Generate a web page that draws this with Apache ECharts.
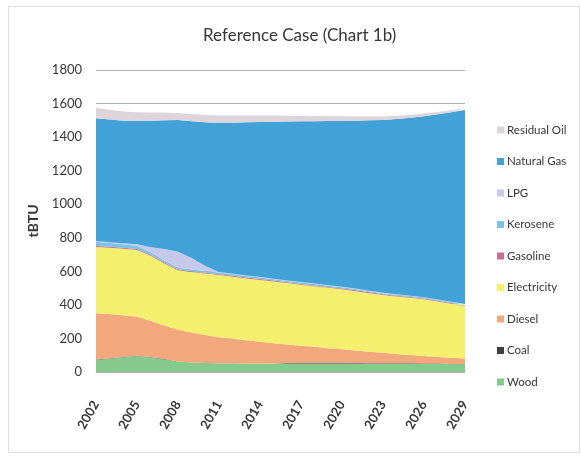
<!DOCTYPE html>
<html>
<head>
<meta charset="utf-8">
<script src="https://cdn.jsdelivr.net/npm/echarts@6/dist/echarts.min.js"></script>
<style>
  html, body { margin: 0; padding: 0; background: #ffffff; }
  #chart { width: 581px; height: 456px; }
</style>
</head>
<body>
<div id="chart"></div>
<script>
// Residential energy use by fuel, tBTU, reference case
const years = ['2002','2003','2004','2005','2006','2007','2008','2009','2010','2011',
  '2012','2013','2014','2015','2016','2017','2018','2019','2020','2021',
  '2022','2023','2024','2025','2026','2027','2028','2029'];

const wood = [72, 80, 88, 95, 88, 75, 62, 57, 54, 52, 52, 51, 51, 51, 50, 50, 50, 50, 50, 50,
  49, 49, 49, 49, 48, 48, 48, 47];
const coal = [2, 2, 2, 2, 2, 2, 0, 0, 0, 0, 0, 0, 0, 0, 3, 3, 3, 3, 3, 3,
  3, 3, 3, 3, 3, 3, 0, 0];
const diesel = [276, 263, 248, 233, 215, 200, 190, 178, 166, 155, 146, 138, 129, 121, 111, 104, 97, 89, 82, 75,
  69, 63, 56, 49, 44, 39, 37, 33];
const electricity = [395, 395, 397, 397, 388, 370, 354, 361, 367, 371, 370, 369, 369, 368, 366, 363, 361, 360, 358, 354,
  349, 344, 342, 341, 338, 330, 322, 313];
const gasoline = [6, 6, 6, 6, 6, 6, 6, 5, 5, 5, 5, 5, 5, 5, 5, 5, 5, 5, 5, 5,
  5, 5, 5, 5, 5, 5, 5, 5];
const kerosene = [25, 23, 21, 18, 15, 12, 10, 10, 10, 10, 9, 9, 9, 8, 8, 8, 8, 7, 7, 7,
  7, 6, 6, 6, 6, 5, 5, 5];
const lpg = [5, 5, 6, 10, 30, 68, 95, 69, 30, 3, 3, 3, 3, 3, 3, 3, 3, 3, 3, 3,
  3, 3, 2, 2, 2, 2, 2, 2];
const naturalGas = [731, 731, 730, 735, 754, 768, 785, 815, 856, 888, 901, 913, 924, 936, 947, 958, 968, 979, 989, 1001,
  1015, 1029, 1045, 1060, 1079, 1104, 1129, 1156];
const residualOil = [62, 58, 54, 52, 48, 45, 42, 43, 44, 45, 43, 41, 39, 37, 35, 33, 31, 29, 27, 25,
  23, 21, 19, 17, 15, 13, 12, 11];

const yTicks = [0, 200, 400, 600, 800, 1000, 1200, 1400, 1600, 1800];

// stacking order, bottom to top
const layers = [
  { name: 'Wood', data: wood, color: '#86c98c' },
  { name: 'Coal', data: coal, color: '#404040' },
  { name: 'Diesel', data: diesel, color: '#f2a77c' },
  { name: 'Electricity', data: electricity, color: '#f4ef6c' },
  { name: 'Gasoline', data: gasoline, color: '#c9708f' },
  { name: 'Kerosene', data: kerosene, color: '#7dc0e8' },
  { name: 'LPG', data: lpg, color: '#c7c9ec' },
  { name: 'Natural Gas', data: naturalGas, color: '#42a1d6' },
  { name: 'Residual Oil', data: residualOil, color: '#ddd4dc' }
];

const legendOrder = layers.map(l => l.name).reverse();
const font = 'Lato, "Open Sans", sans-serif';
const ink = '#363636';

const chart = echarts.init(document.getElementById('chart'), null, { renderer: 'canvas' });
chart.setOption({
  animation: false,
  backgroundColor: '#ffffff',
  textStyle: { fontFamily: font },
  graphic: [{
    type: 'rect',
    silent: true,
    shape: { x: 8.5, y: 6.5, width: 571, height: 446 },
    style: { fill: 'none', stroke: '#dcdcdc', lineWidth: 1 }
  }],
  title: {
    text: 'Reference Case (Chart 1b)',
    left: 198,
    top: 22,
    textStyle: { fontFamily: font, fontSize: 17, fontWeight: 'normal', color: ink }
  },
  legend: {
    orient: 'vertical',
    left: 492,
    top: 119,
    icon: 'rect',
    itemWidth: 7,
    itemHeight: 7,
    itemGap: 19.5,
    data: legendOrder,
    textStyle: { fontFamily: font, fontSize: 11.5, color: ink, lineHeight: 12, padding: [0, 0, 0, -2] }
  },
  grid: { left: 96, right: 116, top: 70, bottom: 84 },
  xAxis: {
    type: 'category',
    boundaryGap: false,
    data: years,
    axisLine: { show: false },
    axisTick: { show: false },
    axisLabel: {
      interval: 2,
      rotate: 60,
      margin: 30,
      fontFamily: font,
      fontSize: 13,
      fontWeight: 'bold',
      color: ink
    }
  },
  yAxis: {
    type: 'value',
    min: yTicks[0],
    max: yTicks[yTicks.length - 1],
    interval: 200,
    name: 'tBTU',
    nameLocation: 'middle',
    nameRotate: 90,
    nameGap: 56,
    nameTextStyle: { fontFamily: font, fontSize: 14, fontWeight: 'bold', color: ink },
    axisLine: { show: false },
    axisTick: { show: false },
    axisLabel: {
      margin: 14,
      fontFamily: font,
      fontSize: 13,
      color: ink,
      formatter: v => String(v)
    },
    splitLine: { lineStyle: { color: '#b0b0b0', width: 1 } }
  },
  series: layers.map(l => ({
    name: l.name,
    type: 'line',
    stack: 'total',
    data: l.data,
    symbol: 'none',
    showSymbol: false,
    lineStyle: { width: 0 },
    areaStyle: { color: l.color, opacity: 1 },
    itemStyle: { color: l.color },
    emphasis: { disabled: true }
  }))
});
</script>
</body>
</html>
